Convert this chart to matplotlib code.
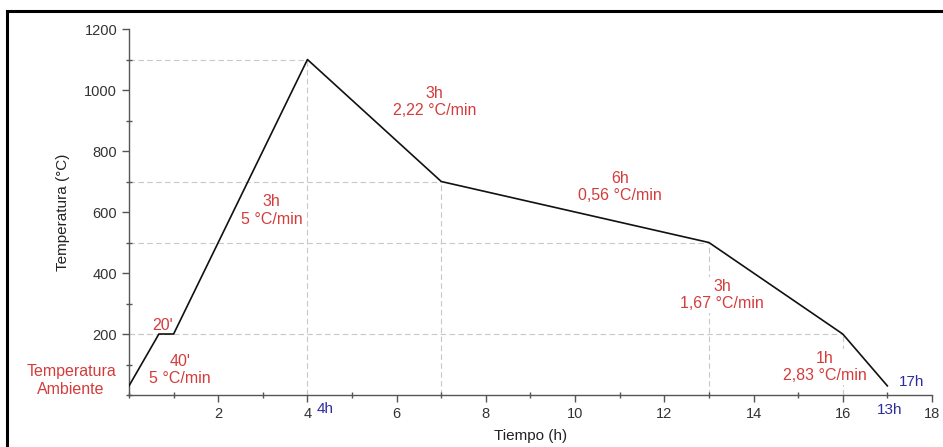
import matplotlib
matplotlib.use("Agg")
import matplotlib.pyplot as plt
from matplotlib.patches import Rectangle
from matplotlib.ticker import MultipleLocator

plt.rcParams['font.family'] = ['Liberation Sans', 'DejaVu Sans']

# ciclo termico: tiempo (h) y temperatura (C)
tiempo = [0, 0.67, 1.0, 4, 7, 13, 16, 17]
temperatura = [30, 200, 200, 1100, 700, 500, 200, 30]

# puntos de referencia con lineas guia (tiempo, temperatura)
guia_t = [4, 7, 13, 16, 1.0]
guia_T = [1100, 700, 500, 200, 200]

# etiquetas de cada tramo: (x, y, texto)
tramos = [
    (-1.3, 48, "Temperatura\nAmbiente"),
    (0.75, 228, "20'"),
    (1.15, 82, "40'\n5 °C/min"),
    (3.2, 605, "3h\n5 °C/min"),
    (6.85, 960, "3h\n2,22 °C/min"),
    (11.0, 682, "6h\n0,56 °C/min"),
    (13.3, 328, "3h\n1,67 °C/min"),
    (15.6, 92, "1h\n2,83 °C/min"),
]
rojo = "#d43c3c"
azul = "#2c2c9c"

fig = plt.figure(figsize=(9.43, 4.47), dpi=100)
ax = fig.add_axes([0.1368, 0.1163, 0.8515, 0.8188])

# lineas guia discontinuas
for t, T in zip(guia_t, guia_T):
    ax.plot([0, t], [T, T], color="#c8c8c8", lw=0.8, ls=(0, (5, 3)), zorder=1)
    if t != 1.0:
        ax.plot([t, t], [0, T], color="#c8c8c8", lw=0.8, ls=(0, (5, 3)), zorder=1)

ax.plot(tiempo, temperatura, color="#111111", lw=1.2, zorder=3)

for x, y, s in tramos:
    ax.text(x, y, s, color=rojo, fontsize=11.5, ha="center", va="center",
            linespacing=1.2, clip_on=False, zorder=2,
            bbox=dict(facecolor="white", edgecolor="none", pad=1))

ax.text(4.2, -45, "4h", color=azul, fontsize=11, ha="left", va="center")
ax.text(17.05, -48, "13h", color=azul, fontsize=11, ha="center", va="center", clip_on=False)
ax.text(17.55, 42, "17h", color=azul, fontsize=11, ha="center", va="center", clip_on=False)

ax.set_xlim(0, 18)
ax.set_ylim(0, 1200)
ax.xaxis.set_major_locator(MultipleLocator(2))
ax.xaxis.set_minor_locator(MultipleLocator(1))
ax.yaxis.set_major_locator(MultipleLocator(200))
ax.yaxis.set_minor_locator(MultipleLocator(100))
ax.set_xticks([2, 4, 6, 8, 10, 12, 14, 16, 18])
ax.set_yticks([200, 400, 600, 800, 1000, 1200])

for s in ["top", "right"]:
    ax.spines[s].set_visible(False)
for s in ["left", "bottom"]:
    ax.spines[s].set_color("#555555")
    ax.spines[s].set_linewidth(1.0)

ax.tick_params(which="major", direction="out", length=5, width=1, colors="#555555",
               labelcolor="#333333", labelsize=10.5)
ax.tick_params(which="minor", direction="inout", length=4, width=1, colors="#555555")

ax.set_xlabel("Tiempo (h)", fontsize=11, color="#222222", labelpad=6)
ax.set_ylabel("Temperatura (°C)", fontsize=11, color="#222222", labelpad=10)

# marco exterior
fig.patches.append(Rectangle((7.5 / 943, -0.1), 1.2, 1 - 11 / 447 + 0.1,
                             transform=fig.transFigure, fill=False,
                             edgecolor="black", lw=2.2))

fig.savefig("out.png", dpi=100)
